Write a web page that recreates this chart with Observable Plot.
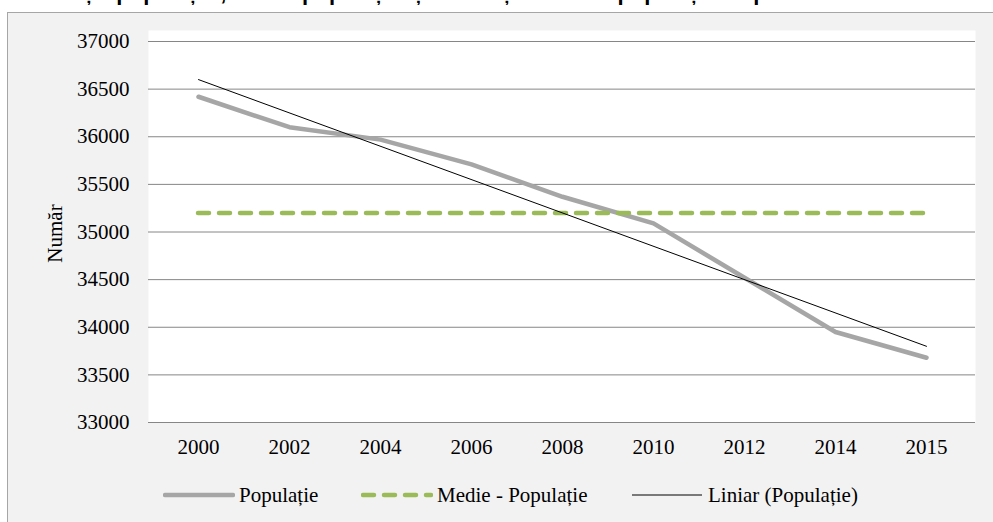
<!DOCTYPE html>
<html>
<head>
<meta charset="utf-8">
<script src="https://cdn.jsdelivr.net/npm/d3@7"></script>
<script src="https://cdn.jsdelivr.net/npm/@observablehq/plot@0.6"></script>
<style>
  html, body { margin: 0; padding: 0; background: #fff; width: 993px; height: 522px; overflow: hidden; }
  #title { position: absolute; left: 0; top: 0; width: 993px; height: 12px; overflow: hidden; }
  #title div { font-family: "Liberation Sans", Arial, sans-serif; font-weight: bold; font-size: 22px; line-height: 22px; margin-top: -17.6px; text-align: center; white-space: nowrap; color: #000; }
  #frame { position: absolute; left: 7px; top: 12px; width: 1000px; height: 520px; background: #f2f2f2; border: 1px solid #a6a6a6; }
  #chart { position: absolute; left: 0; top: 0; }
  #legend { position: absolute; left: 0; top: 483px; width: 993px; height: 24px; font-family: "Liberation Serif", "Times New Roman", serif; font-size: 21px; color: #000; }
  .item { position: absolute; top: 0; height: 24px; display: flex; align-items: center; white-space: nowrap; }
  .item svg { margin-right: 4px; }
</style>
</head>
<body>
<div id="title"><div>Evoluția populației, media populației și tendința liniară a populației în perioada 2000 - 2015</div></div>
<div id="frame"></div>
<div id="chart"></div>
<div id="legend"></div>
<script>
// ---- data ----
const years = ["2000", "2002", "2004", "2006", "2008", "2010", "2012", "2014", "2015"];
const population = [36420, 36100, 35970, 35710, 35370, 35090, 34520, 33950, 33680];
const meanPopulation = 35200;
const trendYears = ["2000", "2015"];
const trendValues = [36600, 33800];
const yTicks = [33000, 33500, 34000, 34500, 35000, 35500, 36000, 36500, 37000];
const yLabel = "Număr";
const seriesNames = ["Populație", "Medie - Populație", "Liniar (Populație)"];
const seriesColors = ["#a6a6a6", "#9bbb59", "#000000"];

const serif = '"Liberation Serif", "Times New Roman", serif';
const popData = years.map((y, i) => ({year: y, value: population[i]}));
const trendData = trendYears.map((y, i) => ({year: y, value: trendValues[i]}));
const meanData = [{from: years[0], to: years[years.length - 1], value: meanPopulation}];

const chart = Plot.plot({
  width: 993,
  height: 522,
  marginLeft: 148,
  marginRight: 18,
  marginTop: 30,
  marginBottom: 100,
  style: {
    fontFamily: serif,
    fontSize: "21px",
    color: "#000",
    background: "transparent",
    overflow: "visible"
  },
  x: {type: "point", domain: years, padding: 0.5},
  y: {domain: [33000, 37000], insetTop: 11},
  marks: [
    Plot.frame({fill: "white", stroke: null}),
    Plot.gridY(yTicks, {stroke: "#868686", strokeOpacity: 1, strokeWidth: 1}),
    Plot.axisY(yTicks, {tickSize: 0, tickPadding: 19, tickFormat: d => String(d), label: null, fill: "#000", fontFamily: serif}),
    Plot.axisX({tickSize: 0, tickPadding: 17, label: null, fill: "#000", fontFamily: serif}),
    Plot.text([yLabel], {text: d => d, frameAnchor: "left", rotate: -90, dx: -93, dy: 7, fill: "#000", textAnchor: "middle", fontFamily: serif}),
    Plot.line(popData, {x: "year", y: "value", stroke: seriesColors[0], strokeWidth: 4.5, strokeLinecap: "round", strokeLinejoin: "round"}),
    Plot.ruleY(meanData, {x1: "from", x2: "to", y: "value", stroke: seriesColors[1], strokeWidth: 4.5, strokeDasharray: "11,10", strokeLinecap: "round"}),
    Plot.line(trendData, {x: "year", y: "value", stroke: seriesColors[2], strokeWidth: 1})
  ]
});
document.getElementById("chart").appendChild(chart);

// ---- legend ----
const legendX = [163, 361, 632];
const legend = document.getElementById("legend");
seriesNames.forEach((name, i) => {
  const item = document.createElement("div");
  item.className = "item";
  item.style.left = legendX[i] + "px";
  let line;
  if (i === 0) line = `<line x1="2" y1="12" x2="70" y2="12" stroke="${seriesColors[0]}" stroke-width="4.5" stroke-linecap="round"/>`;
  else if (i === 1) line = `<line x1="2" y1="12" x2="70" y2="12" stroke="${seriesColors[1]}" stroke-width="4.5" stroke-linecap="round" stroke-dasharray="11,10"/>`;
  else line = `<line x1="0" y1="12" x2="70" y2="12" stroke="${seriesColors[2]}" stroke-width="1"/>`;
  item.innerHTML = `<svg width="72" height="24">${line}</svg><span>${name}</span>`;
  legend.appendChild(item);
});
</script>
</body>
</html>
